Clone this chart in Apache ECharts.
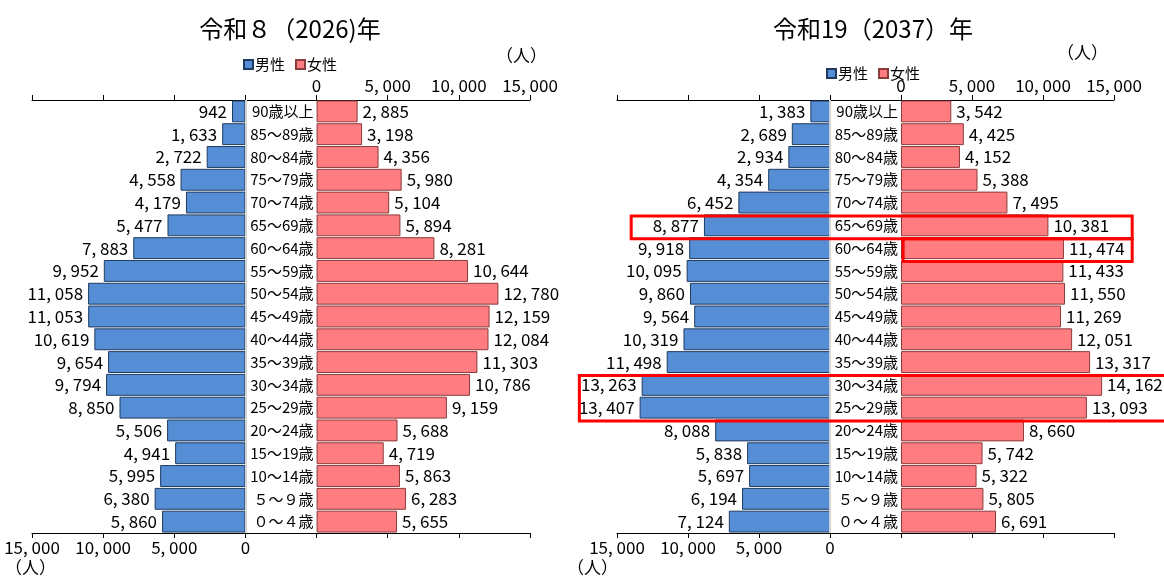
<!DOCTYPE html>
<html>
<head>
<meta charset="utf-8">
<script src="https://cdn.jsdelivr.net/npm/echarts@6/dist/echarts.min.js"></script>
<style>
  html, body { margin: 0; padding: 0; background: #fff; }
  #main { width: 1164px; height: 581px; }
</style>
</head>
<body>
<div id="main"></div>
<script>
// 年齢階級（上から）
var ages = ['90歳以上', '85～89歳', '80～84歳', '75～79歳', '70～74歳', '65～69歳', '60～64歳',
  '55～59歳', '50～54歳', '45～49歳', '40～44歳', '35～39歳', '30～34歳', '25～29歳',
  '20～24歳', '15～19歳', '10～14歳', '５～９歳', '０～４歳'];

// 令和８（2026）年
var male2026 = [942, 1633, 2722, 4558, 4179, 5477, 7883, 9952, 11058, 11053, 10619, 9654, 9794, 8850, 5506, 4941, 5995, 6380, 5860];
var female2026 = [2885, 3198, 4356, 5980, 5104, 5894, 8281, 10644, 12780, 12159, 12084, 11303, 10786, 9159, 5688, 4719, 5863, 6283, 5655];

// 令和19（2037）年
var male2037 = [1383, 2689, 2934, 4354, 6452, 8877, 9918, 10095, 9860, 9564, 10319, 11498, 13263, 13407, 8088, 5838, 5697, 6194, 7124];
var female2037 = [3542, 4425, 4152, 5388, 7495, 10381, 11474, 11433, 11550, 11269, 12051, 13317, 14162, 13093, 8660, 5742, 5322, 5805, 6691];

var titles = ['令和８（2026)年', '令和19（2037）年'];
var tickMax = 15000;
var tickStep = 5000;
var gap = 5000; // 中央の年齢ラベル欄（軸上の幅）

var FONT = '"Noto Sans CJK JP", "Noto Sans", sans-serif';
var NARROW = '"Liberation Sans Narrow", "Noto Sans CJK JP", sans-serif';

function fmt(n) {
  return String(n).replace(/\B(?=(\d{3})+(?!\d))/g, ', ');
}

var chart = echarts.init(document.getElementById('main'));

var grids = [
  { left: 32, width: 498, top: 100, height: 433 },
  { left: 617, width: 497, top: 100, height: 433 }
];

function xAxes(gi) {
  var common = {
    type: 'value',
    gridIndex: gi,
    min: -(tickMax + gap),
    max: tickMax,
    interval: tickStep,
    splitLine: { show: false },
    axisLine: { show: true, onZero: false, lineStyle: { color: '#000', width: 1 } },
    axisTick: { show: true, length: 5, lineStyle: { color: '#000' } }
  };
  return [
    Object.assign({}, common, {
      position: 'top',
      axisLabel: {
        margin: 6, color: '#000', fontSize: 17, fontFamily: NARROW,
        formatter: function (v) { return v >= 0 ? fmt(v) : ''; }
      }
    }),
    Object.assign({}, common, {
      position: 'bottom',
      axisLabel: {
        margin: 6, color: '#000', fontSize: 17, fontFamily: NARROW,
        formatter: function (v) { return v <= -gap ? fmt(-v - gap) : ''; }
      }
    })
  ];
}

function yAxis(gi) {
  return {
    type: 'category',
    gridIndex: gi,
    data: ages,
    inverse: true,
    axisLine: { show: false },
    axisTick: { show: false },
    axisLabel: { show: false },
    splitLine: { show: false }
  };
}

function seriesFor(gi, males, females) {
  var stackName = 'pyr' + gi;
  return [
    {
      // 中央の年齢ラベル用（透明）
      type: 'bar',
      xAxisIndex: gi * 2,
      yAxisIndex: gi,
      stack: stackName,
      silent: true,
      barCategoryGap: '4%',
      itemStyle: { color: 'rgba(0,0,0,0)' },
      label: {
        show: true,
        position: 'insideRight',
        distance: 3,
        color: '#000',
        fontSize: 15,
        fontFamily: NARROW,
        formatter: function (p) { return ages[p.dataIndex]; }
      },
      data: ages.map(function () { return -gap; })
    },
    {
      name: '男性',
      type: 'bar',
      xAxisIndex: gi * 2,
      yAxisIndex: gi,
      stack: stackName,
      barCategoryGap: '4%',
      itemStyle: { color: '#558ED5', borderColor: '#1F3A60', borderWidth: 1 },
      label: {
        show: true,
        position: 'left',
        distance: 5,
        color: '#000',
        fontSize: 17,
        fontFamily: NARROW,
        formatter: function (p) { return fmt(males[p.dataIndex]); }
      },
      markLine: {
        silent: true,
        symbol: 'none',
        label: { show: false },
        lineStyle: { color: '#d4d4d4', width: 2, type: 'solid' },
        data: [{ xAxis: -gap }]
      },
      data: males.map(function (v) { return -v; })
    },
    {
      name: '女性',
      type: 'bar',
      xAxisIndex: gi * 2,
      yAxisIndex: gi,
      stack: stackName,
      barCategoryGap: '4%',
      itemStyle: { color: '#FF7C80', borderColor: '#8A3B3B', borderWidth: 1 },
      label: {
        show: true,
        position: 'right',
        distance: 5,
        color: '#000',
        fontSize: 17,
        fontFamily: NARROW,
        formatter: function (p) { return fmt(females[p.dataIndex]); }
      },
      data: females
    }
  ];
}

var option = {
  animation: false,
  backgroundColor: '#fff',
  textStyle: { fontFamily: FONT },
  title: [
    { text: titles[0], left: 285, top: 12, textAlign: 'center',
      textStyle: { fontSize: 24, fontWeight: 'normal', color: '#000', fontFamily: NARROW } },
    { text: titles[1], left: 868, top: 12, textAlign: 'center',
      textStyle: { fontSize: 24, fontWeight: 'normal', color: '#000', fontFamily: NARROW } }
  ],
  legend: [
    { left: 238, top: 52, itemWidth: 9, itemHeight: 9, itemGap: 10, icon: 'rect',
      textStyle: { fontSize: 15, color: '#000', fontFamily: FONT, padding: [0, 0, 0, -3] },
      data: ['男性', '女性'] },
    { left: 821, top: 61, itemWidth: 9, itemHeight: 9, itemGap: 10, icon: 'rect',
      textStyle: { fontSize: 15, color: '#000', fontFamily: FONT, padding: [0, 0, 0, -3] },
      data: ['男性', '女性'] }
  ],
  grid: grids,
  xAxis: xAxes(0).concat(xAxes(1)),
  yAxis: [yAxis(0), yAxis(1)],
  series: seriesFor(0, male2026, female2026).concat(seriesFor(1, male2037, female2037))
};

chart.setOption(option);

// 単位表示と赤枠（赤枠は軸の座標から求める）
function band(gi, name) {
  var c = chart.convertToPixel({ xAxisIndex: gi * 2, yAxisIndex: gi }, [0, name])[1];
  var c2 = chart.convertToPixel({ xAxisIndex: gi * 2, yAxisIndex: gi }, [0, ages[1]])[1];
  var c1 = chart.convertToPixel({ xAxisIndex: gi * 2, yAxisIndex: gi }, [0, ages[0]])[1];
  var h = Math.abs(c2 - c1);
  return [c - h / 2, c + h / 2];
}
function px(gi, v) {
  return chart.convertToPixel({ xAxisIndex: gi * 2, yAxisIndex: gi }, [v, ages[0]])[0];
}
function redBox(gi, fromAge, toAge, x0, x1) {
  var a = band(gi, fromAge), b = band(gi, toAge);
  var xa = px(gi, x0), xb = px(gi, x1);
  return {
    type: 'rect',
    silent: true,
    z: 100,
    shape: { x: xa, y: a[0] + 2, width: xb - xa, height: b[1] - a[0] },
    style: { fill: 'none', stroke: '#FF0000', lineWidth: 3 }
  };
}
function unit(x, y) {
  return {
    type: 'text', left: x, top: y, silent: true,
    style: { text: '（人）', fill: '#000', font: '17px ' + FONT }
  };
}

chart.setOption({
  graphic: [
    unit(496, 47),
    unit(1057, 44),
    unit(5, 559),
    unit(567, 559),
    redBox(1, '65～69歳', '65～69歳', -19000, 16280),
    redBox(1, '60～64歳', '60～64歳', 150, 16280),
    redBox(1, '30～34歳', '25～29歳', -22650, 21000)
  ]
});
</script>
</body>
</html>
